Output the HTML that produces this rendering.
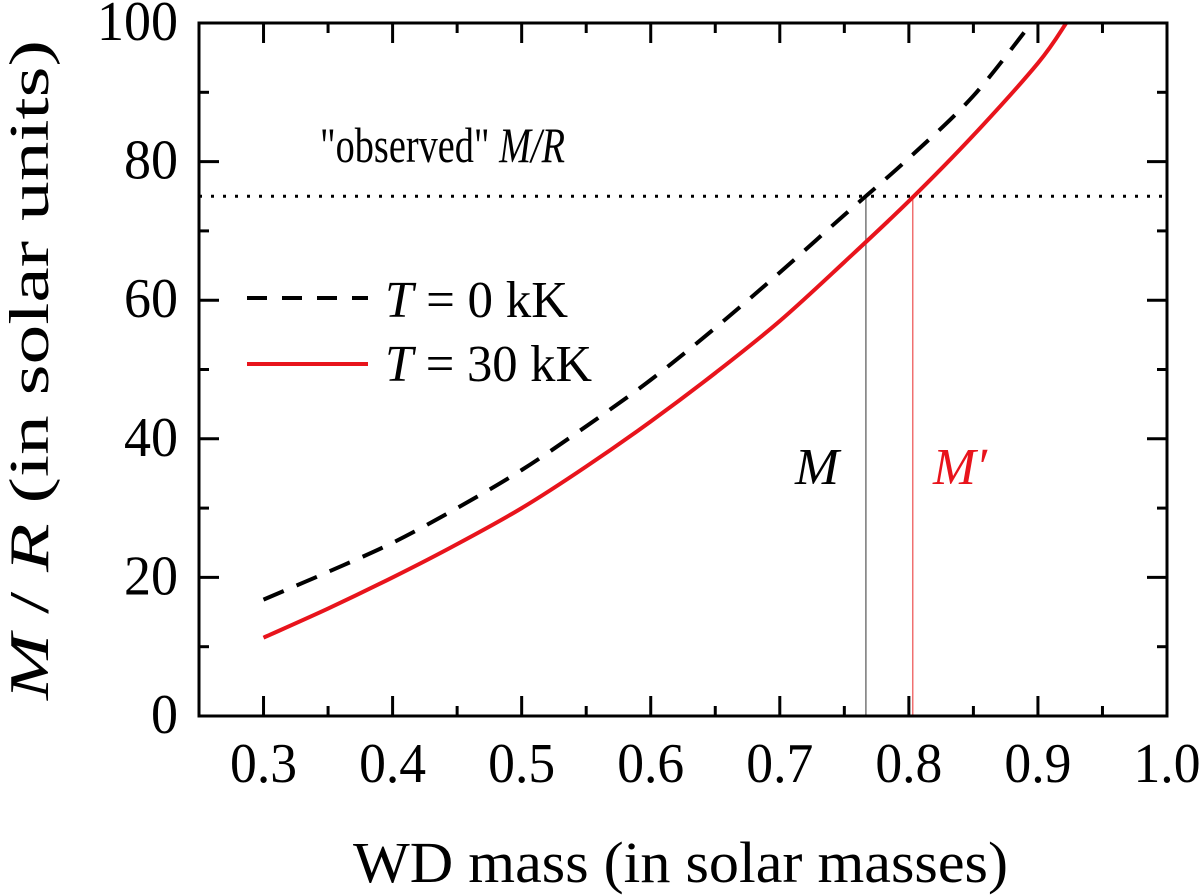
<!DOCTYPE html>
<html><head><meta charset="utf-8"><style>
body{margin:0;background:#fff}
svg{display:block;font-family:"Liberation Serif",serif}
</style></head><body>
<svg width="1200" height="896" viewBox="0 0 1200 896">
<g id="g"></g>
<g font-family="Liberation Serif, serif">
<text x="320" y="162" font-size="50" textLength="245" lengthAdjust="spacingAndGlyphs">"observed" <tspan font-style="italic">M/R</tspan></text>
<line x1="247" x2="368" y1="298" y2="298" stroke="#000" stroke-width="4" stroke-dasharray="20 15"/>
<text x="385" y="317" font-size="52" textLength="183" lengthAdjust="spacingAndGlyphs"><tspan font-style="italic">T</tspan> = 0 kK</text>
<line x1="247" x2="368" y1="364" y2="364" stroke="#e8141c" stroke-width="4"/>
<text x="385" y="381" font-size="52" textLength="207" lengthAdjust="spacingAndGlyphs"><tspan font-style="italic">T</tspan> = 30 kK</text>
<text x="795" y="484" font-size="52" font-style="italic" textLength="44" lengthAdjust="spacingAndGlyphs">M</text>
<text x="933" y="484" font-size="52" font-style="italic" fill="#e8141c" textLength="54" lengthAdjust="spacingAndGlyphs">M′</text>
<text x="353" y="882" font-size="58" textLength="655" lengthAdjust="spacingAndGlyphs">WD mass (in solar masses)</text>
<text transform="translate(48,700) rotate(-90)" font-size="56" textLength="660" lengthAdjust="spacingAndGlyphs"><tspan font-style="italic">M</tspan> / <tspan font-style="italic">R</tspan> (in solar units)</text>
</g>
</svg>
<script>
const massT0=[0.3,0.35,0.4,0.45,0.5,0.55,0.6,0.65,0.7,0.75,0.8,0.85,0.895];
const mrT0=[16.8,20.8,25,30,35.5,41.8,48.5,56,64,72.3,80.5,89.5,100];
const massT30=[0.3,0.35,0.4,0.45,0.5,0.55,0.6,0.65,0.7,0.75,0.8,0.85,0.9,0.922];
const mrT30=[11.3,15.5,20,24.8,30,36,42.5,49.5,57,65.5,74.3,83.8,94.2,100];
const xTicks=[0.3,0.4,0.5,0.6,0.7,0.8,0.9,1.0];
const xTickLabels=["0.3","0.4","0.5","0.6","0.7","0.8","0.9","1.0"];
const yTicks=[0,20,40,60,80,100];
const observedMR=75, massM=0.7667, massMp=0.803;
const X0=0.25,X1=1.0,Y0=0,Y1=100,L=199,R=1167,T=23,B=716;
const xs=v=>L+(v-X0)/(X1-X0)*(R-L), ys=v=>B-(v-Y0)/(Y1-Y0)*(B-T);
const g=document.getElementById('g'),NS='http://www.w3.org/2000/svg';
function el(t,a,p){const e=document.createElementNS(NS,t);for(const k in a)e.setAttribute(k,a[k]);(p||g).appendChild(e);return e;}
function tl(s){let w=0;for(const c of s)w+=(c==='.'?13:27);return w;}
xTicks.forEach((v,i)=>{
 const x=xs(v);
 let t=el('line',{x1:x,x2:x,y1:B,y2:B-20,stroke:'#000','stroke-width':3});
 
 
 el('line',{x1:x,x2:x,y1:T,y2:T+20,stroke:'#000','stroke-width':3});
 if(i<xTicks.length-1){const m=xs(v+0.05);
  el('line',{x1:m,x2:m,y1:B,y2:B-10,stroke:'#000','stroke-width':3});
  el('line',{x1:m,x2:m,y1:T,y2:T+10,stroke:'#000','stroke-width':3});}
 const s=xTickLabels[i],w=tl(s);
 let tx=el('text',{x:x-w/2,y:782,'font-size':56,textLength:w,lengthAdjust:'spacingAndGlyphs'});tx.textContent=s;
 
 
});
yTicks.forEach((v,i)=>{
 const y=ys(v);
 el('line',{x1:L,x2:L+20,y1:y,y2:y,stroke:'#000','stroke-width':3});
 el('line',{x1:R,x2:R-20,y1:y,y2:y,stroke:'#000','stroke-width':3});
 if(i<yTicks.length-1){const m=ys(v+10);
  el('line',{x1:L,x2:L+10,y1:m,y2:m,stroke:'#000','stroke-width':3});
  el('line',{x1:R,x2:R-10,y1:m,y2:m,stroke:'#000','stroke-width':3});}
 const s=String(v),w=tl(s);
 let tx=el('text',{x:178-w,y:y+17,'font-size':56,textLength:w,lengthAdjust:'spacingAndGlyphs'});tx.textContent=s;
 
 
});
let ob=el('line',{x1:L,x2:R,y1:ys(observedMR),y2:ys(observedMR),stroke:'#000','stroke-width':3,'stroke-dasharray':'3 9'});


let vm=el('line',{x1:xs(massM),x2:xs(massM),y1:ys(observedMR),y2:B,stroke:'#777','stroke-width':1.5});


let vmp=el('line',{x1:xs(massMp),x2:xs(massMp),y1:ys(observedMR),y2:B,stroke:'#f07070','stroke-width':1.5});


function path(xa,ya){
 const P=xa.map((v,i)=>[xs(v),ys(ya[i])]);
 let d='M'+P[0][0].toFixed(1)+','+P[0][1].toFixed(1);
 for(let i=0;i<P.length-1;i++){
  const p0=P[Math.max(i-1,0)],p1=P[i],p2=P[i+1],p3=P[Math.min(i+2,P.length-1)];
  const c1=[p1[0]+(p2[0]-p0[0])/6,p1[1]+(p2[1]-p0[1])/6];
  const c2=[p2[0]-(p3[0]-p1[0])/6,p2[1]-(p3[1]-p1[1])/6];
  d+='C'+c1.map(n=>n.toFixed(1)).join(',')+' '+c2.map(n=>n.toFixed(1)).join(',')+' '+p2.map(n=>n.toFixed(1)).join(',');
 }
 return d;
}
let p0=el('path',{d:path(massT0,mrT0),fill:'none',stroke:'#000','stroke-width':4,'stroke-dasharray':'22 14'});


let p1=el('path',{d:path(massT30,mrT30),fill:'none',stroke:'#e8141c','stroke-width':4});


let fr=el('rect',{x:L,y:T,width:R-L,height:B-T,fill:'none',stroke:'#000','stroke-width':3});


</script>
</body></html>
